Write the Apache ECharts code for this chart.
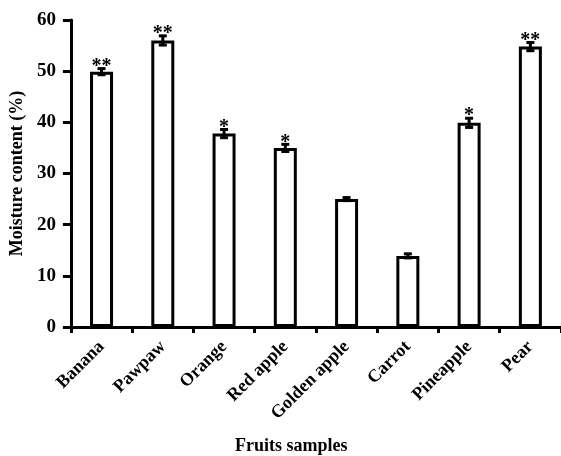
<!DOCTYPE html>
<html><head><meta charset="utf-8">
<script src="https://cdn.jsdelivr.net/npm/echarts@6/dist/echarts.min.js"></script>
<style>html,body{margin:0;padding:0;background:#fff}#c{width:561px;height:456px}</style>
</head><body><div id="c"></div>
<script>
const categories = ['Banana','Pawpaw','Orange','Red apple','Golden apple','Carrot','Pineapple','Pear'];
const moisture = [49.9, 56.0, 37.8, 35.0, 25.0, 13.9, 39.9, 54.8];
const errors = [0.6, 0.9, 0.8, 0.7, 0.3, 0.4, 0.9, 0.8];
const significance = ['**','**','*','*','','','*','**'];
const yTicks = [0, 10, 20, 30, 40, 50, 60];

const FONT = '"Liberation Serif", "DejaVu Serif", serif';
const chart = echarts.init(document.getElementById('c'));
chart.setOption({
  backgroundColor: '#fff',
  animation: false,
  grid: { left: 67, top: 20, width: 499, height: 307, containLabel: false },
  xAxis: {
    type: 'category', data: categories,
    axisLine: { lineStyle: { color: '#000', width: 3 } },
    axisTick: { show: true, alignWithLabel: false, length: 6, lineStyle: { color: '#000', width: 3 } },
    axisLabel: { rotate: 45, fontFamily: FONT, fontWeight: 'bold', fontSize: 18, color: '#000', margin: 17, interval: 0 }
  },
  yAxis: {
    type: 'value', min: yTicks[0], max: yTicks[yTicks.length-1], interval: 10,
    name: 'Moisture content (%)', nameLocation: 'middle', nameGap: 34,
    nameTextStyle: { fontFamily: FONT, fontWeight: 'bold', fontSize: 18, color: '#000' },
    axisLine: { show: true, lineStyle: { color: '#000', width: 3 } },
    axisTick: { show: true, length: 8, lineStyle: { color: '#000', width: 3 } },
    axisLabel: { fontFamily: FONT, fontWeight: 'bold', fontSize: 19, color: '#000', margin: 15 },
    splitLine: { show: false }
  },
  graphic: [{
    type: 'text', left: 291 - 56, top: 437,
    style: { text: 'Fruits samples', font: 'bold 18px ' + FONT, fill: '#000' }
  }],
  series: [
    {
      type: 'bar', data: moisture, barWidth: 23,
      itemStyle: { color: '#fff', borderColor: '#000', borderWidth: 3 }
    },
    {
      type: 'custom',
      data: moisture.map((v, i) => [i, v, errors[i]]),
      renderItem: function (params, api) {
        const i = api.value(0), v = api.value(1), e = api.value(2);
        const sig = significance[i];
        const hi = api.coord([i, v + e]);
        const lo = api.coord([i, v - e]);
        const x = hi[0], w = 4;
        const ls = { stroke: '#000', lineWidth: 3 };
        const children = [
          { type: 'line', shape: { x1: x, y1: hi[1], x2: x, y2: lo[1] }, style: ls },
          { type: 'line', shape: { x1: x - w, y1: hi[1], x2: x + w, y2: hi[1] }, style: ls },
          { type: 'line', shape: { x1: x - w, y1: lo[1], x2: x + w, y2: lo[1] }, style: ls }
        ];
        if (sig) {
          children.push({ type: 'text', style: { text: sig, x: x, y: hi[1] + 8, align: 'center', verticalAlign: 'bottom',
            font: 'bold 20px ' + FONT, fill: '#000' } });
        }
        return { type: 'group', children: children };
      },
      z: 5
    }
  ]
});
</script></body></html>
